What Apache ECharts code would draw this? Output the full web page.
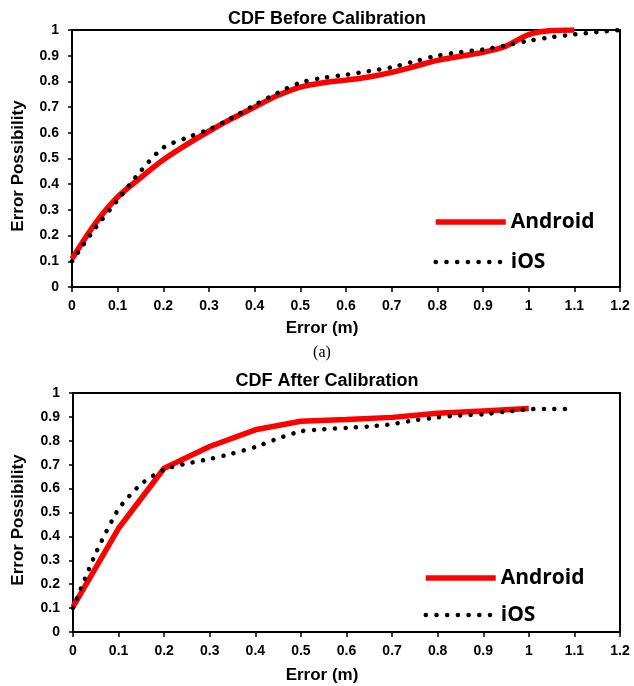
<!DOCTYPE html>
<html>
<head>
<meta charset="utf-8">
<script src="https://cdn.jsdelivr.net/npm/echarts@6/dist/echarts.min.js"></script>
<style>
html,body{margin:0;padding:0;background:#fff;}
#chart{width:634px;height:686px;}
</style>
</head>
<body>
<div id="chart"></div>
<script>
// ---- data ----
const xTicks = ['0','0.1','0.2','0.3','0.4','0.5','0.6','0.7','0.8','0.9','1','1.1','1.2'];
const yTicks = ['0','0.1','0.2','0.3','0.4','0.5','0.6','0.7','0.8','0.9','1'];

const beforeAndroidX = [0,0.05,0.1,0.15,0.2,0.25,0.3,0.35,0.4,0.45,0.5,0.55,0.6,0.65,0.7,0.75,0.8,0.85,0.9,0.95,1.0,1.05,1.1];
const beforeAndroidY = [0.11,0.245,0.35,0.425,0.495,0.553,0.606,0.655,0.70,0.745,0.778,0.795,0.805,0.817,0.835,0.858,0.882,0.898,0.913,0.937,0.982,0.998,1.0];

const beforeIosX = [0,0.05,0.1,0.15,0.2,0.25,0.3,0.35,0.4,0.45,0.5,0.55,0.6,0.65,0.7,0.75,0.8,0.85,0.9,0.95,1.0,1.05,1.1,1.15,1.2];
const beforeIosY = [0.10,0.227,0.338,0.45,0.542,0.58,0.613,0.658,0.708,0.755,0.795,0.814,0.826,0.84,0.855,0.878,0.90,0.914,0.924,0.94,0.958,0.972,0.983,0.992,1.0];

const afterAndroidX = [0,0.1,0.2,0.3,0.4,0.5,0.6,0.7,0.8,0.9,1.0];
const afterAndroidY = [0.105,0.434,0.685,0.776,0.846,0.882,0.889,0.898,0.915,0.925,0.935];

const afterIosX = [0,0.05,0.1,0.15,0.2,0.25,0.3,0.35,0.4,0.45,0.5,0.55,0.6,0.65,0.7,0.75,0.8,0.85,0.9,0.95,1.0,1.05,1.1];
const afterIosY = [0.10,0.33,0.515,0.62,0.68,0.705,0.724,0.747,0.774,0.81,0.84,0.848,0.854,0.86,0.87,0.886,0.898,0.906,0.911,0.922,0.932,0.933,0.933];

const titles = ['CDF Before Calibration','CDF After Calibration'];
const xName = 'Error (m)';
const yName = 'Error Possibility';
const seriesNames = ['Android','iOS'];
const subCaption = '(a)';

// ---- build ----
const pairs = (xs, ys) => xs.map((x, i) => [x, ys[i]]);
const FONT = '"Liberation Sans", Arial, sans-serif';
const LEGEND_FONT = '"Open Sans", "Noto Sans", sans-serif';

function xAxisCfg(gi) {
  return {
    type: 'value', gridIndex: gi, min: 0, max: 1.2, interval: 0.1,
    axisLine: {show: true, lineStyle: {color: '#000', width: 2}},
    axisTick: {show: true, length: 5, lineStyle: {color: '#000', width: 1.5}},
    splitLine: {show: false},
    axisLabel: {color: '#000', fontFamily: FONT, fontWeight: 'bold', fontSize: 14, margin: 12,
      formatter: v => xTicks[Math.round(v * 10)]}
  };
}
function yAxisCfg(gi) {
  return {
    type: 'value', gridIndex: gi, min: 0, max: 1, interval: 0.1,
    axisLine: {show: true, lineStyle: {color: '#000', width: 2}},
    axisTick: {show: true, length: 4, lineStyle: {color: '#000', width: 1.5}},
    splitLine: {show: false},
    axisLabel: {color: '#000', fontFamily: FONT, fontWeight: 'bold', fontSize: 14, margin: 13,
      formatter: v => yTicks[Math.round(v * 10)]}
  };
}
const redLine = {color: '#ff0000', width: 5.5};
const dotLine = {color: '#000', width: 4.5, type: [0.1, 10.4], cap: 'round'};

function legendItems() {
  return [
    {name: seriesNames[0], itemStyle: {opacity: 0}, lineStyle: {color: '#ff0000', width: 5.5, type: 'solid'}},
    {name: seriesNames[1], itemStyle: {opacity: 0}, lineStyle: {color: '#000', width: 4.5, type: [0.1, 10.6], cap: 'round'}}
  ];
}
const legendText = {fontFamily: LEGEND_FONT, fontWeight: 'bold', fontSize: 21, color: '#000', lineHeight: 24};

const option = {
  animation: false,
  backgroundColor: '#fff',
  title: [
    {text: titles[0], left: 322, top: 5, textAlign: 'center',
     textStyle: {fontFamily: FONT, fontWeight: 'bold', fontSize: 18, color: '#000'}},
    {text: titles[1], left: 322, top: 367, textAlign: 'center',
     textStyle: {fontFamily: FONT, fontWeight: 'bold', fontSize: 18, color: '#000'}}
  ],
  grid: [
    {left: 72, right: 14, top: 30, height: 257, show: true, borderColor: '#000', borderWidth: 2, backgroundColor: 'transparent'},
    {left: 73, right: 14, top: 393, height: 239, show: true, borderColor: '#000', borderWidth: 2, backgroundColor: 'transparent'}
  ],
  xAxis: [xAxisCfg(0), xAxisCfg(1)],
  yAxis: [yAxisCfg(0), yAxisCfg(1)],
  legend: [
    {orient: 'vertical', left: 433, top: 210, padding: 0, itemWidth: 70, itemHeight: 8, itemGap: 16,
     data: legendItems(), textStyle: legendText},
    {orient: 'vertical', left: 423, top: 566, padding: 0, itemWidth: 70, itemHeight: 8, itemGap: 13,
     data: legendItems(), textStyle: legendText}
  ],
  graphic: [
    {type: 'text', x: 322, y: 328, style: {text: xName, x: 0, y: 0, align: 'center', verticalAlign: 'middle',
      font: 'bold 17px ' + FONT, fill: '#000'}},
    {type: 'text', x: 322, y: 675, style: {text: xName, x: 0, y: 0, align: 'center', verticalAlign: 'middle',
      font: 'bold 17px ' + FONT, fill: '#000'}},
    {type: 'text', x: 18, y: 166, rotation: Math.PI / 2, style: {text: yName, x: 0, y: 0, align: 'center', verticalAlign: 'middle',
      font: 'bold 17px ' + FONT, fill: '#000'}},
    {type: 'text', x: 18, y: 520, rotation: Math.PI / 2, style: {text: yName, x: 0, y: 0, align: 'center', verticalAlign: 'middle',
      font: 'bold 17px ' + FONT, fill: '#000'}},
    {type: 'text', x: 322, y: 353, style: {text: subCaption, x: 0, y: 0, align: 'center', verticalAlign: 'middle',
      font: '16px "Liberation Serif", "Times New Roman", serif', fill: '#000'}}
  ],
  series: [
    {name: seriesNames[0], type: 'line', xAxisIndex: 0, yAxisIndex: 0, data: pairs(beforeAndroidX, beforeAndroidY),
     symbol: 'none', smooth: 0.3, lineStyle: redLine, itemStyle: {color: '#ff0000'}, z: 2},
    {name: seriesNames[1], type: 'line', xAxisIndex: 0, yAxisIndex: 0, data: pairs(beforeIosX, beforeIosY),
     symbol: 'none', smooth: 0.3, lineStyle: dotLine, itemStyle: {color: '#000'}, z: 3},
    {name: seriesNames[0], type: 'line', xAxisIndex: 1, yAxisIndex: 1, data: pairs(afterAndroidX, afterAndroidY),
     symbol: 'none', lineStyle: redLine, itemStyle: {color: '#ff0000'}, z: 2},
    {name: seriesNames[1], type: 'line', xAxisIndex: 1, yAxisIndex: 1, data: pairs(afterIosX, afterIosY),
     symbol: 'none', smooth: 0.2, lineStyle: dotLine, itemStyle: {color: '#000'}, z: 3}
  ]
};
const chart = echarts.init(document.getElementById('chart'), null, {renderer: 'canvas'});
chart.setOption(option);
</script>
</body>
</html>
